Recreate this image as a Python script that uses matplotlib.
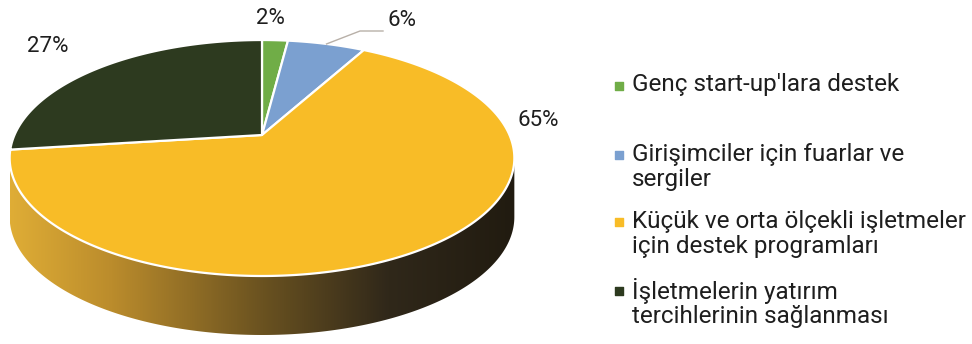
import numpy as np
import matplotlib.pyplot as plt
from matplotlib.patches import Polygon
from matplotlib.colors import LinearSegmentedColormap

plt.rcParams["font.family"] = ["Roboto", "DejaVu Sans"]

labels = [
    "Genç start-up'lara destek",
    "Girişimciler için fuarlar ve\nsergiler",
    "Küçük ve orta ölçekli işletmeler\niçin destek programları",
    "İşletmelerin yatırım\ntercihlerinin sağlanması",
]
shares = [2, 6, 65, 27]
colors = ["#70ad47", "#7ba0d0", "#f8bc27", "#2d3a1f"]

# pie geometry, in pixel units of the canvas
cx, cy = 262, 135
rx, ry = 247.5, 113.5
k = 0.195      # perspective: far edge shrinks, near edge grows
depth = 59     # thickness of the disc


def rim(theta):
    # theta in degrees, clockwise from 12 o'clock
    t = np.radians(theta)
    x, y = np.sin(t), np.cos(t)
    s = 1 / (1 + k * y)
    return cx + rx * x * s, cy - ry * y * s


fig = plt.figure(figsize=(9.72, 3.44), dpi=100)
ax = fig.add_axes([0, 0, 1, 1])

# side of the disc: front arc between the two silhouette points
th = np.linspace(0, 360, 1441)
X, Y = rim(th)
t_right, t_left = th[np.argmax(X)], th[np.argmin(X)]
arc = np.linspace(t_right, t_left, 300)
ax_, ay_ = rim(arc)
side_pts = np.column_stack([np.r_[ax_, ax_[::-1]], np.r_[ay_, ay_[::-1] + depth]])
side = Polygon(side_pts, closed=True, facecolor="none", edgecolor="none")
ax.add_patch(side)

side_cmap = LinearSegmentedColormap.from_list(
    "side", [(0, "#dfad36"), (0.2, "#bb8c2c"), (0.5, "#6a5220"), (0.75, "#30281a"), (1, "#211b10")])
grad = np.linspace(0, 1, 256).reshape(1, -1)
img = ax.imshow(grad, cmap=side_cmap, aspect="auto",
                extent=(X.min(), X.max(), Y.max() + depth, Y.min()), zorder=1)
img.set_clip_path(side)

# top face wedges
bounds = np.r_[0, np.cumsum(shares)] / sum(shares) * 360
for a0, a1, c in zip(bounds[:-1], bounds[1:], colors):
    wx, wy = rim(np.linspace(a0, a1, max(int(a1 - a0) * 2, 4)))
    pts = np.column_stack([np.r_[cx, wx], np.r_[cy, wy]])
    ax.add_patch(Polygon(pts, closed=True, facecolor=c, edgecolor="white",
                         linewidth=1.6, joinstyle="round", zorder=2))

# percentage labels
label_pos = [(270, 18), (402, 21), (538, 120), (48, 46)]
for v, (lx, ly) in zip(shares, label_pos):
    ax.text(lx, ly, f"{v}%", fontsize=16, color="#1e1e1e",
            ha="center", va="center", zorder=4)

# leader line for the small blue slice
mid = (bounds[1] + bounds[2]) / 2
px, py = rim(mid)
lx, ly = label_pos[1]
ax.plot([px, lx - 42, lx - 19], [py, ly + 10, ly + 10],
        color="#b8b0a8", linewidth=1.0, zorder=3)

# legend
legend_y = [84, 167, 234, 303]
for lab, c, y in zip(labels, colors, legend_y):
    n = lab.count("\n")
    ax.scatter([619], [y - 13.5 * n + 1.5], marker="s", s=32, color=c, zorder=4)
    ax.text(632, y, lab, fontsize=17.5, color="#1e1e1e", ha="left", va="center",
            linespacing=1.1, zorder=4)

ax.set_xlim(0, 972)
ax.set_ylim(344, 0)
ax.axis("off")

fig.savefig("out.png", dpi=100)
